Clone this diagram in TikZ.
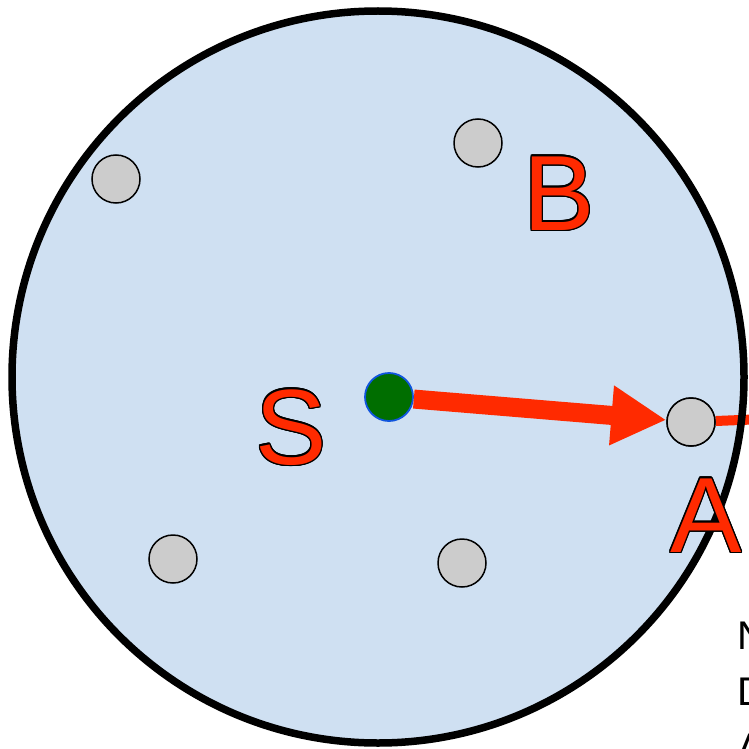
\documentclass[tikz,border=0pt]{standalone}
\usepackage{fontspec}
\setmainfont{Liberation Sans}
\usepackage{contour}
\usetikzlibrary{arrows.meta}
\definecolor{bgblue}{HTML}{CFE0F2}
\definecolor{ptgray}{HTML}{CCCCCC}
\definecolor{srcgreen}{HTML}{006E00}
\definecolor{srcblue}{HTML}{1055DD}
\definecolor{arrred}{HTML}{FF2A00}
\contourlength{1.3pt}
\tikzset{
  pt/.style={circle, fill=ptgray, draw=black, line width=1.5pt, minimum size=48pt, inner sep=0pt},
  src/.style={circle, fill=srcgreen, draw=srcblue, line width=1.8pt, minimum size=48pt, inner sep=0pt},
  biglabel/.style={inner sep=0pt, font=\fontsize{107}{107}\selectfont},
  sidetext/.style={inner sep=0pt, align=left, anchor=north west, font=\fontsize{40}{56}\selectfont}
}
\newcommand{\redlet}[1]{\contour{black}{\textcolor{arrred}{#1}}}
\begin{document}
\begin{tikzpicture}[x=1pt, y=-1pt]
\useasboundingbox (0,0) rectangle (749,749);
\fill[bgblue] (378,377) circle (366);
\node[pt] (p1) at (116,179) {};
\node[pt] (p2) at (478,143) {};
\node[pt] (p3) at (173,559) {};
\node[pt] (p4) at (462,563) {};
\node[pt] (A) at (691,422) {};
\node[src] (S) at (389,397) {};
\coordinate (out) at (765,419);
\draw[arrred, line width=10pt] (A) -- (out);
\draw[black, line width=7.5pt] (378,377) circle (366);
\node[pt] at (A) {};
\draw[arrred, line width=19pt, -{Triangle[length=55pt, width=56pt]}] (S) -- (A);
\node[biglabel] (lB) at (559,194) {\redlet{B}};
\node[biglabel] (lS) at (291,428) {\redlet{S}};
\node[biglabel] (lA) at (706,516) {\redlet{A}};
\node[sidetext] (txt) at (737,622) {N\\D\\A};
\end{tikzpicture}
\end{document}
